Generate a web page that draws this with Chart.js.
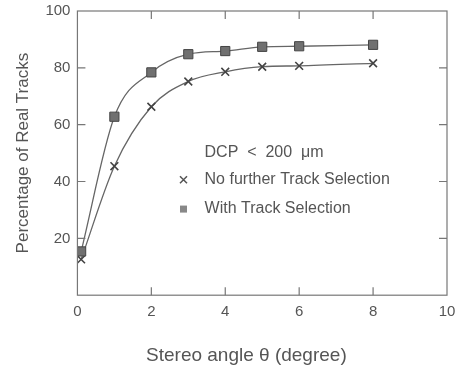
<!DOCTYPE html>
<html><head><meta charset="utf-8">
<script src="https://cdn.jsdelivr.net/npm/chart.js@4.4.1/dist/chart.umd.min.js"></script>
<style>html,body{margin:0;padding:0;background:#fff}#wrap{width:459px;height:367px}</style>
</head><body><div id="wrap"><canvas id="c" width="459" height="367"></canvas></div>
<script>
const angles = [0.1, 1, 2, 3, 4, 5, 6, 8];
const noSelection = [12.6, 45.4, 66.3, 75.2, 78.6, 80.4, 80.7, 81.6];
const withSelection = [15.4, 62.8, 78.4, 84.8, 85.9, 87.4, 87.6, 88.1];
const xTicks = [0, 2, 4, 6, 8, 10];
const yTicks = [20, 40, 60, 80, 100];
const legendTitle = 'DCP  <  200  μm';
const legendLabels = ['No further Track Selection', 'With Track Selection'];
const xTitle = 'Stereo angle θ (degree)';
const yTitle = 'Percentage of Real Tracks';

const FONT = "'Liberation Sans', Arial, Helvetica, sans-serif";
const TXT = '#555';

const pts = (xs, ys) => xs.map((x, i) => ({x, y: ys[i]}));

const framePlugin = {
  id: 'frame',
  afterDraw(chart) {
    const {ctx, chartArea: a, scales: {x, y}} = chart;
    ctx.save();
    ctx.strokeStyle = '#777';
    ctx.lineWidth = 1.2;
    ctx.strokeRect(a.left, a.top, a.right - a.left, a.bottom - a.top);
    ctx.beginPath();
    const tl = 8;
    xTicks.slice(1, -1).forEach(v => {
      const px = x.getPixelForValue(v);
      ctx.moveTo(px, a.bottom); ctx.lineTo(px, a.bottom - tl);
      ctx.moveTo(px, a.top); ctx.lineTo(px, a.top + tl);
    });
    yTicks.slice(0, -1).forEach(v => {
      const py = y.getPixelForValue(v);
      ctx.moveTo(a.left, py); ctx.lineTo(a.left + tl, py);
      ctx.moveTo(a.right, py); ctx.lineTo(a.right - tl, py);
    });
    ctx.stroke();
    // legend inside plot
    const lx = a.left + (a.right - a.left) * 0.344;
    const mx = a.left + (a.right - a.left) * 0.287;
    const h = a.bottom - a.top;
    ctx.fillStyle = TXT;
    ctx.font = '16px ' + FONT;
    ctx.textBaseline = 'middle';
    ctx.textAlign = 'left';
    ctx.fillText(legendTitle, lx, a.top + h * 0.498);
    ctx.fillText(legendLabels[0], lx, a.top + h * 0.594);
    ctx.fillText(legendLabels[1], lx, a.top + h * 0.697);
    // markers
    const y1 = a.top + h * 0.594, y2 = a.top + h * 0.697;
    ctx.strokeStyle = '#555'; ctx.lineWidth = 1.5;
    ctx.beginPath();
    ctx.moveTo(mx - 3.5, y1 - 3.5); ctx.lineTo(mx + 3.5, y1 + 3.5);
    ctx.moveTo(mx + 3.5, y1 - 3.5); ctx.lineTo(mx - 3.5, y1 + 3.5);
    ctx.stroke();
    ctx.fillStyle = '#888';
    ctx.fillRect(mx - 3.5, y2 - 3.5, 7, 7);
    ctx.restore();
  }
};

new Chart(document.getElementById('c'), {
  type: 'scatter',
  data: {
    datasets: [
      {
        label: legendLabels[1],
        data: pts(angles, withSelection),
        showLine: true,
        cubicInterpolationMode: 'monotone',
        borderColor: '#666',
        borderWidth: 1.3,
        pointStyle: 'rect',
        pointRadius: 6.5,
        pointBackgroundColor: '#707070',
        pointBorderColor: '#444',
        pointBorderWidth: 1
      },
      {
        label: legendLabels[0],
        data: pts(angles, noSelection),
        showLine: true,
        cubicInterpolationMode: 'monotone',
        borderColor: '#666',
        borderWidth: 1.3,
        pointStyle: 'crossRot',
        pointRadius: 5.5,
        pointBorderColor: '#444',
        pointBorderWidth: 1.6
      }
    ]
  },
  options: {
    responsive: false,
    animation: false,
    layout: {padding: {left: 13, right: 0, top: 11, bottom: 0}},
    plugins: {legend: {display: false}, tooltip: {enabled: false}},
    scales: {
      x: {
        type: 'linear', min: 0, max: 10,
        afterBuildTicks: s => { s.ticks = xTicks.map(v => ({value: v})); },
        afterFit: s => { s.paddingRight = 12; s.paddingLeft = 0; },
        grid: {display: false, drawTicks: false, tickLength: 0},
        border: {display: false},
        ticks: {color: TXT, font: {family: FONT, size: 15}, padding: 8, maxRotation: 0},
        title: {display: true, text: xTitle + '      ', color: TXT,
                font: {family: FONT, size: 19}, padding: {top: 15, bottom: 0}}
      },
      y: {
        type: 'linear', min: 0, max: 100,
        afterBuildTicks: s => { s.ticks = yTicks.map(v => ({value: v})); },
        afterFit: s => { s.paddingTop = 0; s.paddingBottom = 0; },
        grid: {display: false, drawTicks: false, tickLength: 0},
        border: {display: false},
        ticks: {color: TXT, font: {family: FONT, size: 15}, padding: 7},
        title: {display: true, text: yTitle, color: TXT,
                font: {family: FONT, size: 17}, padding: {top: 0, bottom: 5}}
      }
    }
  },
  plugins: [framePlugin]
});
</script></body></html>
